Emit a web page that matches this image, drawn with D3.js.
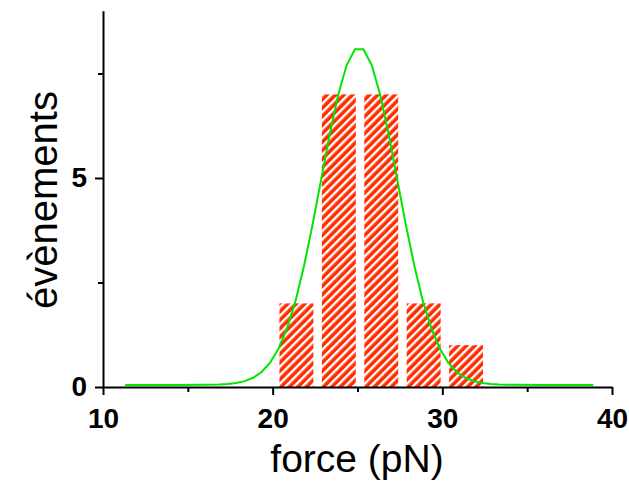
<!DOCTYPE html>
<html>
<head>
<meta charset="utf-8">
<script src="https://cdn.jsdelivr.net/npm/d3@7"></script>
<style>
  html, body { margin: 0; padding: 0; background: #fff; }
  svg { display: block; }
</style>
</head>
<body>
<svg id="chart" width="629" height="484"></svg>
<script>
// Histogram bins (center of bar, pN) and counts
const binCenters = [21.4, 23.9, 26.4, 28.9, 31.4];
const counts = [2, 7, 7, 2, 1];
const barWidthUnits = 2.0;

// Fitted Gaussian curve points
const fitX = [11.3, 14.35, 15.85, 16.85, 17.35, 17.85, 18.35, 18.85, 19.35, 19.85, 20.35, 20.85, 21.35, 21.85, 22.35, 22.85, 23.35, 23.85, 24.35, 24.85,
              25.35, 25.85, 26.35, 26.85, 27.35, 27.85, 28.35, 28.85, 29.35, 29.85, 30.35, 30.85, 31.35, 31.85, 32.35, 32.85, 33.35, 34.35, 35.85, 38.9];
const fitY = [0.05, 0.05, 0.052, 0.06, 0.071, 0.095, 0.14, 0.22, 0.36, 0.58, 0.92, 1.41, 2.06, 2.90, 3.88, 4.95, 6.02, 6.97, 7.69, 8.08,
              8.08, 7.69, 6.97, 6.02, 4.95, 3.88, 2.90, 2.06, 1.41, 0.92, 0.58, 0.36, 0.22, 0.14, 0.095, 0.071, 0.06, 0.052, 0.05, 0.05];

const xMajor = [10, 20, 30, 40];
const xMinor = [15, 25, 35];
const yMajor = [0, 5];
const yMinor = [2.5, 7.5];

const svg = d3.select("#chart");
const x = d3.scaleLinear().domain([10, 40]).range([103, 612]);
const y = d3.scaleLinear().domain([0, 9]).range([387, 10.8]);

// hatch pattern
const defs = svg.append("defs");
const pat = defs.append("pattern")
  .attr("id", "hatch")
  .attr("patternUnits", "userSpaceOnUse")
  .attr("width", 6).attr("height", 6)
  .attr("patternTransform", "rotate(45)");
pat.append("rect").attr("width", 6).attr("height", 6).attr("fill", "#ff2d00");
pat.append("rect").attr("width", 2.4).attr("height", 6).attr("fill", "#ffffff");

// bars
const bars = binCenters.map((c, i) => ({c, v: counts[i]}));
svg.append("g").selectAll("rect").data(bars).join("rect")
  .attr("x", d => x(d.c - barWidthUnits / 2))
  .attr("width", d => x(d.c + barWidthUnits / 2) - x(d.c - barWidthUnits / 2))
  .attr("y", d => y(d.v))
  .attr("height", d => y(0) - y(d.v))
  .attr("fill", "url(#hatch)");

// gaussian curve
const pts = fitX.map((v, i) => [v, fitY[i]]);
svg.append("path")
  .datum(pts)
  .attr("fill", "none")
  .attr("stroke", "#00e600")
  .attr("stroke-width", 2)
  .attr("d", d3.line().x(d => x(d[0])).y(d => y(d[1])));

// axes
const font = "'Liberation Sans', Arial, sans-serif";
const xAxis = svg.append("g").attr("transform", `translate(0,${y(0)})`)
  .call(d3.axisBottom(x).tickValues(xMajor).tickSize(8).tickSizeOuter(0).tickPadding(13).tickFormat(d3.format("d")));
const xAxisMinor = svg.append("g").attr("transform", `translate(0,${y(0)})`)
  .call(d3.axisBottom(x).tickValues(xMinor).tickSize(5).tickSizeOuter(0).tickFormat(""));
xAxisMinor.select(".domain").remove();

const yAxis = svg.append("g").attr("transform", `translate(${x(10)},0)`)
  .call(d3.axisLeft(y).tickValues(yMajor).tickSize(8).tickSizeOuter(0).tickPadding(8).tickFormat(d3.format("d")));
const yAxisMinor = svg.append("g").attr("transform", `translate(${x(10)},0)`)
  .call(d3.axisLeft(y).tickValues(yMinor).tickSize(5).tickSizeOuter(0).tickFormat(""));
yAxisMinor.select(".domain").remove();

svg.selectAll(".domain, .tick line").attr("stroke", "#000").attr("stroke-width", 2);
svg.selectAll(".tick text")
  .attr("font-family", font)
  .attr("font-weight", "bold")
  .attr("font-size", 28)
  .attr("fill", "#000");

// axis titles
svg.append("text")
  .attr("x", 357).attr("y", 472)
  .attr("text-anchor", "middle")
  .attr("font-family", font)
  .attr("font-size", 39)
  .attr("fill", "#000")
  .text("force (pN)");

svg.append("text")
  .attr("transform", "translate(57,200) rotate(-90)")
  .attr("text-anchor", "middle")
  .attr("font-family", font)
  .attr("font-size", 40)
  .attr("fill", "#000")
  .text("évènements");
</script>
</body>
</html>
